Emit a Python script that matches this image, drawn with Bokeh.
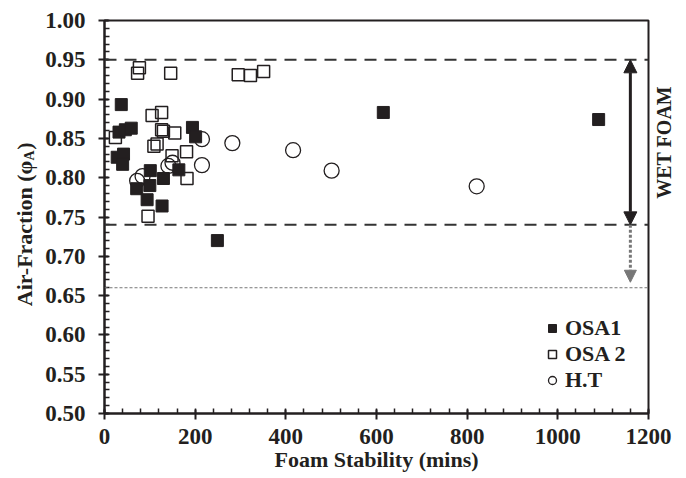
from math import pi

from bokeh.embed import file_html
from bokeh.models import (Arrow, FixedTicker, Label, Legend, LegendItem,
                          NormalHead, Range1d, Span)
from bokeh.plotting import figure
from bokeh.resources import INLINE

# Foam stability (mins) vs air fraction for each sample set
osa1_time = [37, 32, 46, 59, 28, 42, 40, 101, 71, 100, 94, 130, 127, 164, 194, 201, 249, 615, 1090]
osa1_phi = [0.893, 0.858, 0.861, 0.863, 0.826, 0.830, 0.817, 0.809, 0.786, 0.790, 0.772,
            0.799, 0.764, 0.810, 0.864, 0.852, 0.720, 0.883, 0.874]

osa2_time = [77, 73, 146, 295, 322, 351, 105, 126, 126, 130, 155, 109, 116, 149, 181, 182, 96, 24]
osa2_phi = [0.940, 0.933, 0.933, 0.931, 0.930, 0.935, 0.879, 0.883, 0.861, 0.859, 0.857,
            0.840, 0.843, 0.828, 0.833, 0.799, 0.751, 0.851]

ht_time = [72, 84, 141, 150, 215, 215, 282, 416, 501, 821]
ht_phi = [0.796, 0.802, 0.815, 0.819, 0.849, 0.816, 0.844, 0.835, 0.809, 0.789]

# Wet-foam band limits and lower reference level
wet_upper = 0.95
wet_lower = 0.74
lower_ref = 0.66
arrow_x = 1160
dotted_tip = 0.667

x_ticks = [0, 200, 400, 600, 800, 1000, 1200]
x_tick_labels = ["0", "200", "400", "600", "800", "1000", "1200"]
x_minor = [0, 40, 80, 120, 160, 200, 240, 280, 320, 360, 400, 440, 480, 520, 560, 600,
           640, 680, 720, 760, 800, 840, 880, 920, 960, 1000, 1040, 1080, 1120, 1160, 1200]
y_ticks = [0.50, 0.55, 0.60, 0.65, 0.70, 0.75, 0.80, 0.85, 0.90, 0.95, 1.00]
y_tick_labels = ["0.50", "0.55", "0.60", "0.65", "0.70", "0.75", "0.80", "0.85", "0.90", "0.95", "1.00"]
y_minor = [0.50, 0.51, 0.52, 0.53, 0.54, 0.55, 0.56, 0.57, 0.58, 0.59, 0.60, 0.61, 0.62, 0.63,
           0.64, 0.65, 0.66, 0.67, 0.68, 0.69, 0.70, 0.71, 0.72, 0.73, 0.74, 0.75, 0.76, 0.77,
           0.78, 0.79, 0.80, 0.81, 0.82, 0.83, 0.84, 0.85, 0.86, 0.87, 0.88, 0.89, 0.90, 0.91,
           0.92, 0.93, 0.94, 0.95, 0.96, 0.97, 0.98, 0.99, 1.00]

FONT = "Liberation Serif"
INK = "#231f20"

p = figure(width=686, height=478, output_backend="svg", toolbar_location=None,
           x_range=Range1d(0, 1200), y_range=Range1d(0.5, 1.0),
           min_border_left=104, min_border_right=38, min_border_top=20, min_border_bottom=65)
p.grid.visible = False
p.outline_line_color = INK
p.outline_line_width = 2
p.background_fill_color = "white"
p.border_fill_color = "white"

for ax in (p.xaxis[0], p.yaxis[0]):
    ax.axis_line_color = INK
    ax.axis_line_width = 2
    ax.major_tick_line_color = INK
    ax.major_tick_line_width = 2
    ax.minor_tick_line_color = INK
    ax.minor_tick_line_width = 1.5
    ax.major_tick_in = 4
    ax.major_tick_out = 6
    ax.minor_tick_in = 5
    ax.minor_tick_out = 0
    ax.major_label_text_font = FONT
    ax.major_label_text_font_style = "bold"
    ax.major_label_text_font_size = "23px"
    ax.major_label_text_color = INK

p.xaxis[0].ticker = FixedTicker(ticks=x_ticks, minor_ticks=x_minor)
p.yaxis[0].ticker = FixedTicker(ticks=y_ticks, minor_ticks=y_minor)
p.xaxis[0].major_label_overrides = dict(zip(x_ticks, x_tick_labels))
p.yaxis[0].major_label_overrides = dict(zip(y_ticks, y_tick_labels))
p.xaxis[0].major_label_standoff = 9
p.yaxis[0].major_label_standoff = 13

p.xaxis[0].axis_label = "Foam Stability (mins)"
p.xaxis[0].axis_label_standoff = 0
p.xaxis[0].axis_label_text_font = FONT
p.xaxis[0].axis_label_text_font_style = "bold"
p.xaxis[0].axis_label_text_font_size = "22px"
p.xaxis[0].axis_label_text_color = INK

# Wet-foam band and lower reference line
for level in (wet_upper, wet_lower):
    p.add_layout(Span(location=level, dimension="width", line_color="#333333",
                      line_width=2, line_dash="12 8"))
p.add_layout(Span(location=lower_ref, dimension="width", line_color="#777777",
                  line_width=1, line_dash="3 2"))

# Data series (filled squares drawn last, on top)
r_ht = p.scatter(ht_time, ht_phi, marker="circle", size=15, fill_color=None,
                 line_color=INK, line_width=1.3)
r_osa2 = p.scatter(osa2_time, osa2_phi, marker="square", size=12, fill_color=None,
                   line_color=INK, line_width=1.5)
r_osa1 = p.scatter(osa1_time, osa1_phi, marker="square", size=12, fill_color=INK,
                   line_color=INK, line_width=1)

# Double arrow spanning the wet-foam band
p.add_layout(Arrow(x_start=arrow_x, y_start=wet_lower, x_end=arrow_x, y_end=wet_upper,
                   line_color=INK, line_width=3,
                   start=NormalHead(size=13, fill_color=INK, line_color=INK),
                   end=NormalHead(size=13, fill_color=INK, line_color=INK)))
# Dotted arrow down to the lower reference
p.add_layout(Arrow(x_start=arrow_x, y_start=wet_lower, x_end=arrow_x, y_end=dotted_tip,
                   line_color="#777777", line_width=3, line_dash="3 2",
                   end=NormalHead(size=12, fill_color="#777777", line_color="#777777")))

p.add_layout(Label(x=1234, y=0.845, text="WET FOAM", angle=pi / 2,
                   text_align="center", text_baseline="middle",
                   text_font=FONT, text_font_style="bold",
                   text_font_size="20px", text_color=INK), "right")

# Vertical axis title; the subscript A sits in the gap before the closing bracket
y_title_x = -176
y_title_end = 0.845
p.add_layout(Label(x=y_title_x, y=y_title_end, text="Air-Fraction (\u03c6\u2002)", angle=pi / 2,
                   text_align="right", text_baseline="middle",
                   text_font=FONT, text_font_style="bold",
                   text_font_size="22px", text_color=INK), "left")
p.add_layout(Label(x=y_title_x, y=y_title_end, text="A", angle=pi / 2,
                   text_align="right", text_baseline="middle", x_offset=5, y_offset=-8,
                   text_font=FONT, text_font_style="bold",
                   text_font_size="14px", text_color=INK), "left")

legend = Legend(items=[LegendItem(label="OSA1", renderers=[r_osa1]),
                       LegendItem(label="OSA 2", renderers=[r_osa2]),
                       LegendItem(label="H.T", renderers=[r_ht])],
                location=(438, 20), orientation="vertical",
                glyph_width=20, glyph_height=26, spacing=0, padding=0, margin=0,
                label_standoff=3, label_text_font=FONT, label_text_font_style="bold",
                label_text_font_size="22px", label_text_color=INK,
                border_line_alpha=0, background_fill_alpha=0)
p.add_layout(legend)

open("out.html", "w").write(file_html(p, INLINE))
